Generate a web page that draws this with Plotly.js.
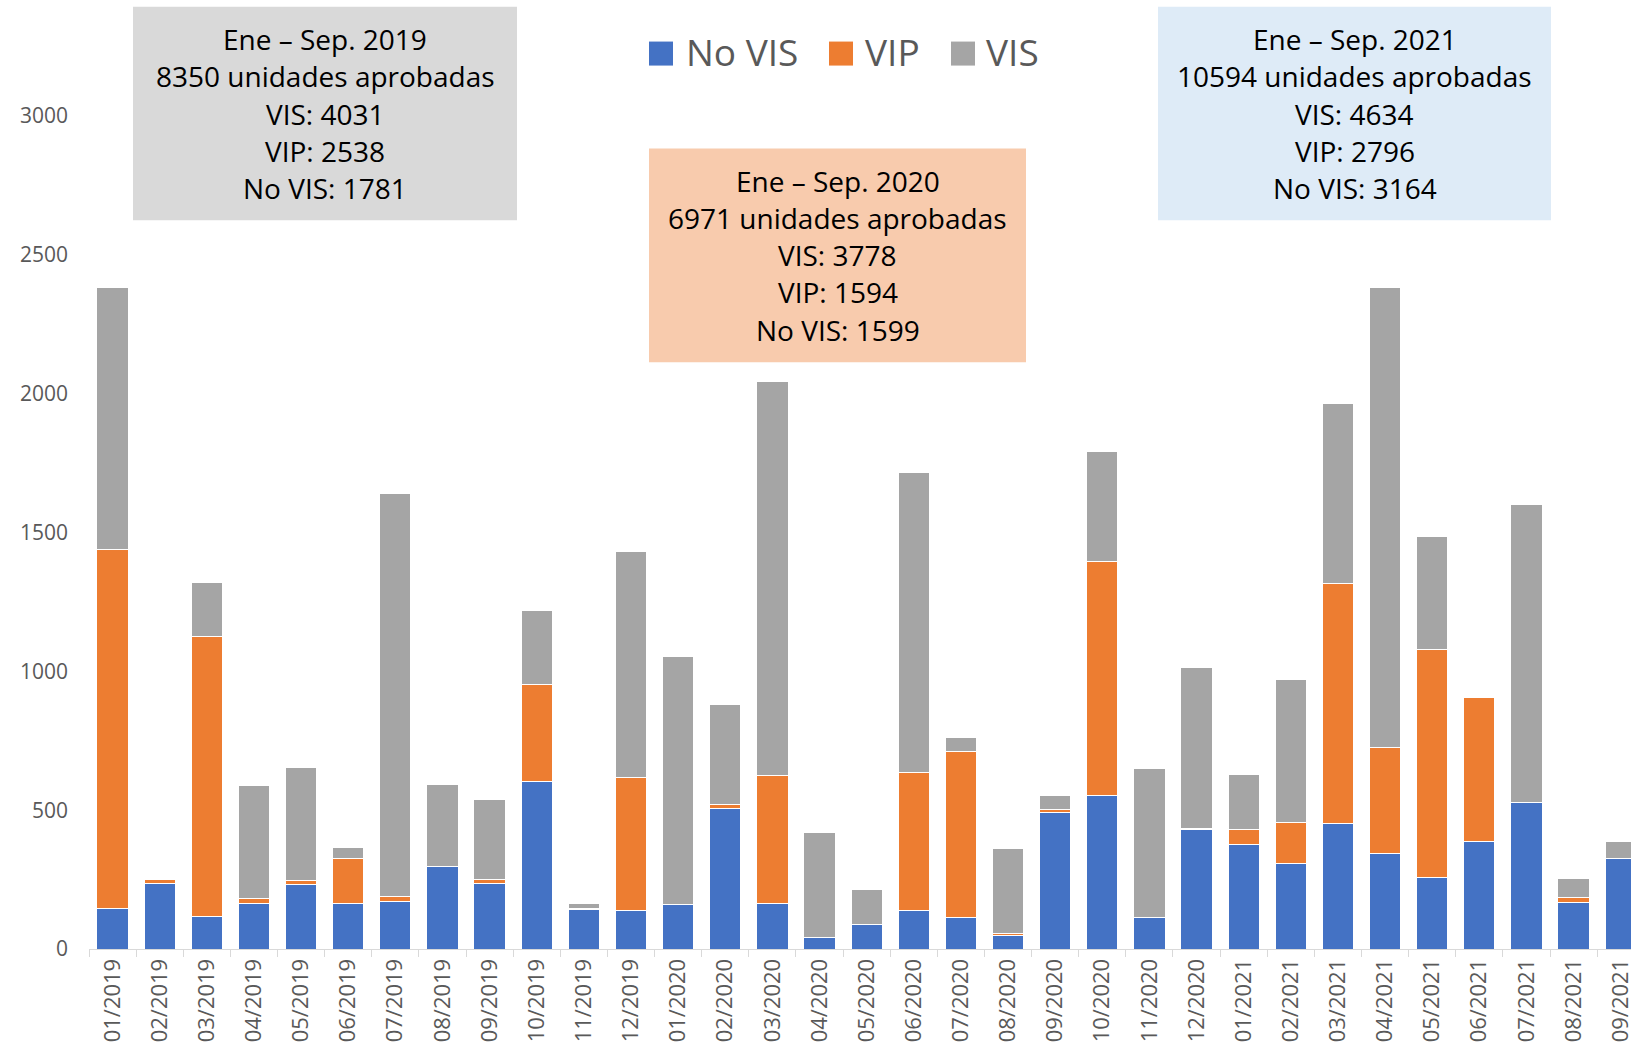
<!DOCTYPE html>
<html>
<head>
<meta charset="utf-8">
<script src="https://cdn.plot.ly/plotly-3.0.1.min.js"></script>
<style>
  html, body { margin: 0; padding: 0; background: #fff; }
  #chart { width: 1631px; height: 1050px; }
</style>
</head>
<body>
<div id="chart"></div>
<script>
// months shown on the x axis
var months = ['01/2019', '02/2019', '03/2019', '04/2019', '05/2019', '06/2019', '07/2019', '08/2019', '09/2019',
    '10/2019', '11/2019', '12/2019', '01/2020', '02/2020', '03/2020', '04/2020', '05/2020', '06/2020',
    '07/2020', '08/2020', '09/2020', '10/2020', '11/2020', '12/2020', '01/2021', '02/2021', '03/2021',
    '04/2021', '05/2021', '06/2021', '07/2021', '08/2021', '09/2021'];

// units per month
var noVis = [146, 237, 117, 164, 233, 164, 170, 297, 235, 605, 144, 138, 160, 506, 164, 40, 87, 138,
    113, 49, 492, 552, 113, 429, 378, 309, 451, 344, 257, 386, 526, 166, 326];
var vip = [1292, 12, 1010, 18, 13, 162, 18, 0, 14, 348, 2, 481, 0, 16, 461, 0, 0, 499,
    597, 8, 12, 844, 2, 6, 51, 146, 864, 382, 821, 520, 0, 18, 0];
var vis = [945, 3, 194, 407, 407, 38, 1452, 294, 291, 267, 19, 813, 892, 360, 1420, 379, 127, 1080,
    53, 305, 48, 396, 536, 580, 198, 516, 649, 1655, 407, 2, 1074, 71, 60];

var seriesNames = ['No VIS', 'VIP', 'VIS'];
var seriesColors = ['#4472c4', '#ed7d31', '#a5a5a5'];

// summary boxes
var boxTexts = [
    ['Ene – Sep. 2019', '8350 unidades aprobadas', 'VIS: 4031', 'VIP: 2538', 'No VIS: 1781'],
    ['Ene – Sep. 2020', '6971 unidades aprobadas', 'VIS: 3778', 'VIP: 1594', 'No VIS: 1599'],
    ['Ene – Sep. 2021', '10594 unidades aprobadas', 'VIS: 4634', 'VIP: 2796', 'No VIS: 3164']
];
var boxColors = ['#d9d9d9', '#f8cbad', '#deebf7'];

// plot area in pixels
var figW = 1631, figH = 1050;
var plotL = 89, plotT = 116.4, plotB = 949;
function px(x) { return (x - plotL) / (figW - plotL); }
function py(y) { return (plotB - y) / (plotB - plotT); }

var font = 'Open Sans, Lato, sans-serif';
var grey = '#595959';

var data = [noVis, vip, vis].map(function(vals, i) {
    return {
        x: months,
        y: vals,
        name: seriesNames[i],
        type: 'bar',
        marker: { color: seriesColors[i], line: { color: '#ffffff', width: 1 } },
        hoverinfo: 'x+y+name'
    };
});

var shapes = [];
var annotations = [];

// boxes: [left, right, top, bottom] in pixels
var boxPos = [[133, 517, 7.3, 220.5], [649, 1026, 149, 362.5], [1158, 1551, 7.3, 220.5]];
boxPos.forEach(function(b, i) {
    shapes.push({
        type: 'rect', xref: 'paper', yref: 'paper',
        x0: px(b[0]), x1: px(b[1]), y0: py(b[3]), y1: py(b[2]),
        fillcolor: boxColors[i], line: { width: 0 }, layer: 'below'
    });
    var cx = (b[0] + b[1]) / 2;
    boxTexts[i].forEach(function(t, j) {
        annotations.push({
            xref: 'paper', yref: 'paper',
            x: px(cx), y: py(b[2] + 32.5 + j * 37.1),
            xanchor: 'center', yanchor: 'middle',
            text: t, showarrow: false,
            font: { family: font, size: 28, color: '#000000' }
        });
    });
});

// legend drawn by hand so the swatches match the size
var legendSwatch = [649, 829, 951];
var legendText = [686, 865, 986];
seriesNames.forEach(function(n, i) {
    shapes.push({
        type: 'rect', xref: 'paper', yref: 'paper',
        x0: px(legendSwatch[i]), x1: px(legendSwatch[i] + 24), y0: py(66), y1: py(42),
        fillcolor: seriesColors[i], line: { width: 0 }
    });
    annotations.push({
        xref: 'paper', yref: 'paper',
        x: px(legendText[i] - 2), y: py(52),
        xanchor: 'left', yanchor: 'middle',
        text: n, showarrow: false,
        font: { family: font, size: 37, color: grey }
    });
});

var layout = {
    width: figW,
    height: figH,
    barmode: 'stack',
    bargap: 0.336,
    showlegend: false,
    paper_bgcolor: '#ffffff',
    plot_bgcolor: '#ffffff',
    margin: { l: plotL, r: 0, t: plotT, b: figH - plotB, pad: 0 },
    font: { family: font, color: grey },
    xaxis: {
        type: 'category',
        range: [-0.5, -0.5 + (figW - plotL) / 47.13],
        showline: true,
        linecolor: '#d9d9d9',
        linewidth: 1,
        ticks: 'outside',
        tickson: 'boundaries',
        ticklen: 7,
        tickcolor: '#d9d9d9',
        tickangle: -90,
        tickfont: { family: font, size: 22, color: grey },
        showgrid: false,
        zeroline: false,
        automargin: false,
        fixedrange: true
    },
    yaxis: {
        range: [0, 3000],
        tickvals: [0, 500, 1000, 1500, 2000, 2500, 3000],
        ticks: '',
        ticklabelstandoff: 20,
        tickfont: { family: font, size: 21, color: grey },
        showgrid: false,
        showline: false,
        zeroline: false,
        automargin: false,
        fixedrange: true
    },
    shapes: shapes,
    annotations: annotations
};

Plotly.newPlot('chart', data, layout, { displayModeBar: false, staticPlot: true });
</script>
</body>
</html>
